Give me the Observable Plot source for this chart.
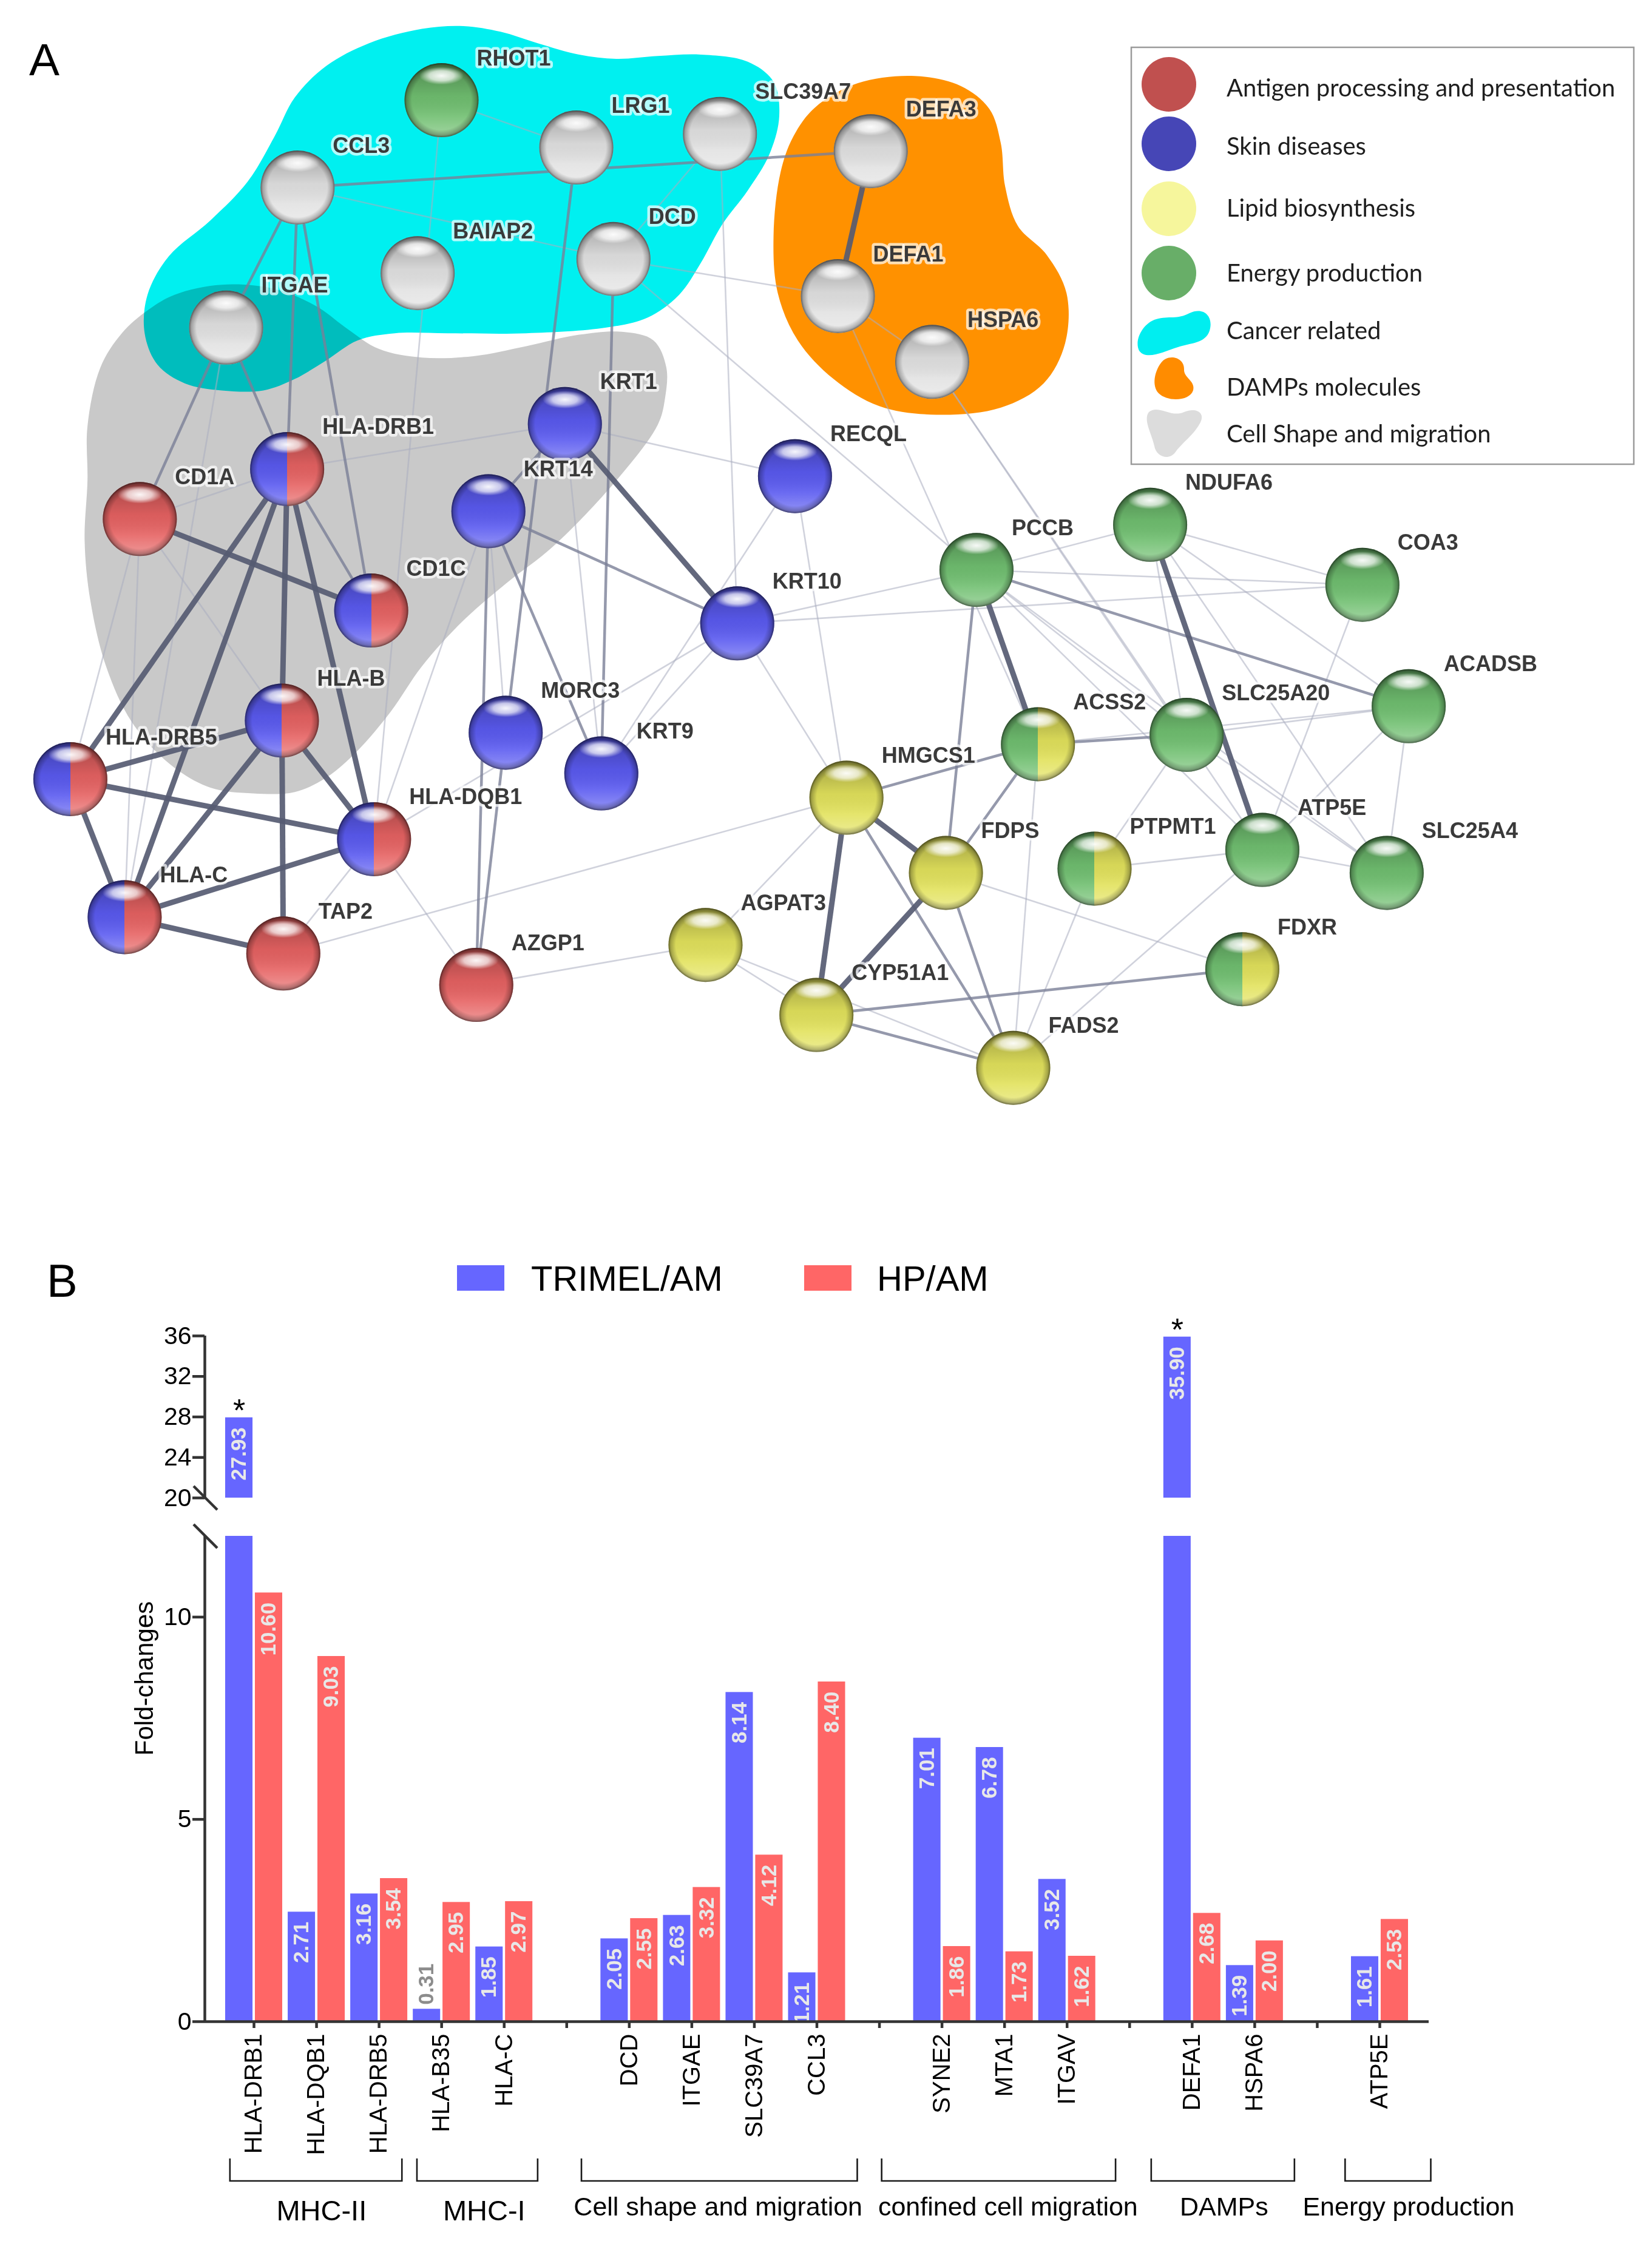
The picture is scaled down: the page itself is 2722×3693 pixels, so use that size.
<!DOCTYPE html>
<html>
<head>
<meta charset="utf-8">
<script src="https://cdn.jsdelivr.net/npm/d3@7"></script>
<script src="https://cdn.jsdelivr.net/npm/@observablehq/plot@0.6"></script>
<style>
html,body{margin:0;padding:0;background:#fff;overflow:hidden;}
#root{position:relative;width:2722px;height:3693px;overflow:hidden;font-family:"Liberation Sans",Arial,sans-serif;background:#fff;}
</style>
</head>
<body>
<div id="root"></div>
<script>
// ================= PANEL A DATA (network, layout units of the original picture) =================
const nodeNames = ["RHOT1","LRG1","SLC39A7","CCL3","BAIAP2","DCD","ITGAE","DEFA3","DEFA1","HSPA6",
  "KRT1","HLA-DRB1","CD1A","KRT14","RECQL","CD1C","KRT10","HLA-B","MORC3","KRT9",
  "HLA-DRB5","HLA-DQB1","HLA-C","TAP2","AZGP1","PCCB","NDUFA6","COA3","ACADSB","SLC25A20",
  "ACSS2","HMGCS1","FDPS","PTPMT1","ATP5E","SLC25A4","AGPAT3","CYP51A1","FDXR","FADS2"];
const nodeX = [308.7,403,503.5,208,292,429,158,609,586,652,
  395,200.7,97.6,341.5,556,259.5,515.6,197,353.6,420.5,
  49,261.5,87,198,333,683,804.5,953,985.4,830,
  726,592,661.6,765.6,883,970,493.4,571,869,708.7];
const nodeY = [69.9,103,93.5,131,191,181,229,105.6,207,253,
  296.5,328,363,357.5,333,427,436,504,512.5,541,
  545,587,641.6,667,689,398.6,367,409,494,514,
  520.6,558,610.6,607.6,594.5,610.6,661,710,678,747];
const nodeGroup = ["energy","none","none","none","none","none","none","none","none","none",
  "skin","skin/antigen","antigen","skin","skin","skin/antigen","skin","skin/antigen","skin","skin",
  "skin/antigen","skin/antigen","skin/antigen","antigen","antigen","energy","energy","energy","energy","energy",
  "energy/lipid","lipid","lipid","energy/lipid","energy","energy","lipid","lipid","energy/lipid","lipid"];

// [source, target, strength 1=weak 2=medium 3=strong]
const edges = [
  ["CCL3","ITGAE",2],["CCL3","HLA-DRB1",2],["CCL3","CD1C",2],["CCL3","DCD",1],["CCL3","DEFA3",2],
  ["RHOT1","LRG1",1],["RHOT1","HLA-DQB1",1],["LRG1","MORC3",2],["DCD","KRT9",2],["SLC39A7","DCD",1],
  ["DCD","DEFA1",1],["ITGAE","HLA-DRB1",2],["ITGAE","CD1A",2],["HLA-DRB1","KRT1",1],
  ["DEFA3","DEFA1",3],["DEFA1","HSPA6",1],
  ["HLA-DRB1","HLA-DRB5",3],["HLA-DRB1","HLA-C",3],["HLA-DRB1","HLA-B",3],["HLA-DRB1","HLA-DQB1",3],["HLA-DRB1","CD1C",2],
  ["CD1A","CD1C",3],["HLA-B","HLA-DRB5",3],["HLA-B","HLA-C",3],["HLA-B","HLA-DQB1",3],["HLA-B","TAP2",3],
  ["HLA-DRB5","HLA-DQB1",3],["HLA-DRB5","HLA-C",3],["HLA-C","HLA-DQB1",3],["HLA-C","TAP2",3],
  ["HLA-DQB1","TAP2",1],["CD1A","HLA-DRB5",1],["CD1A","HLA-C",1],["CD1A","HLA-B",1],["CD1A","HLA-DRB1",1],["ITGAE","HLA-C",1],
  ["KRT1","KRT10",3],["KRT14","KRT10",2],["KRT1","KRT14",2],["KRT14","KRT9",2],["KRT1","KRT9",1],["KRT14","MORC3",1],
  ["MORC3","AZGP1",2],["KRT14","AZGP1",2],["HLA-DQB1","AZGP1",1],["KRT10","KRT9",1],["KRT14","HLA-DQB1",1],
  ["KRT10","HLA-DQB1",1],["TAP2","HMGCS1",1],["AZGP1","AGPAT3",1],
  ["KRT10","PCCB",1],["KRT10","COA3",1],["RECQL","KRT9",1],["RECQL","KRT1",1],["DEFA1","ACSS2",1],["HSPA6","SLC25A20",1],
  ["DCD","PCCB",1],["HSPA6","ATP5E",1],["RECQL","HMGCS1",1],["KRT10","HMGCS1",1],["SLC39A7","KRT10",1],
  ["PCCB","NDUFA6",1],["PCCB","COA3",1],["PCCB","ACADSB",2],["PCCB","ACSS2",3],["PCCB","SLC25A20",1],["PCCB","FDPS",2],["PCCB","ATP5E",1],["PCCB","SLC25A4",1],
  ["NDUFA6","ATP5E",3],["NDUFA6","ACADSB",1],["NDUFA6","COA3",1],["NDUFA6","SLC25A4",1],["NDUFA6","SLC25A20",1],
  ["ACSS2","SLC25A20",2],["ACSS2","ACADSB",1],["ACSS2","HMGCS1",2],["ACSS2","FDPS",2],["ACSS2","FADS2",1],
  ["SLC25A20","ACADSB",1],["SLC25A20","PTPMT1",1],["SLC25A20","SLC25A4",1],
  ["ATP5E","PTPMT1",1],["ATP5E","SLC25A4",1],["ATP5E","ACADSB",1],["ATP5E","FADS2",1],["ATP5E","COA3",1],
  ["ACADSB","SLC25A4",1],
  ["HMGCS1","FDPS",3],["HMGCS1","CYP51A1",3],["HMGCS1","FADS2",2],["HMGCS1","AGPAT3",1],
  ["FDPS","CYP51A1",3],["FDPS","FADS2",2],["FDPS","FDXR",1],
  ["CYP51A1","FDXR",2],["CYP51A1","FADS2",2],["CYP51A1","AGPAT3",1],["AGPAT3","FADS2",1],["PTPMT1","FADS2",1]
];

// cluster outlines (shape data)
const hullCancer = [[206,68],[228,46],[258,30],[295,20],[324,18],[350,22],[376,30],[405,38],[431,41],[460,39],[490,38],[523,43],[541,57],[545,81],[538,108],[523,133],[505,157],[490,184],[475,206],[453,222],[424,229],[368,233],[313,233],[276,233],[250,238],[228,252],[206,265],[184,273],[155,273],[129,268],[110,255],[101,233],[103,206],[118,179],[147,154],[173,127],[192,95]];
const hullShape = [[61,298],[70,257],[85,233],[103,217],[122,206],[155,199],[192,202],[221,214],[243,230],[265,244],[295,250],[331,249],[368,242],[405,234],[435,232],[457,238],[466,257],[465,279],[460,297],[431,336],[387,382],[354,408],[324,434],[295,466],[273,498],[250,525],[228,544],[206,554],[177,555],[147,551],[118,534],[92,505],[74,466],[63,420],[59,378],[61,336]];
const hullDamps = [[570,75],[600,58],[640,53],[672,60],[692,76],[700,100],[703,130],[712,158],[732,178],[746,205],[745,240],[730,268],[700,285],[655,290],[615,284],[583,265],[558,238],[544,205],[541,165],[546,120],[555,95]];

const legendLabels = ["Antigen processing and presentation","Skin diseases","Lipid biosynthesis","Energy production","Cancer related","DAMPs molecules","Cell Shape and migration"];

// ================= PANEL B DATA =================
const slots = ["HLA-DRB1","HLA-DQB1","HLA-DRB5","HLA-B35","HLA-C",null,"DCD","ITGAE","SLC39A7","CCL3",null,"SYNE2","MTA1","ITGAV",null,"DEFA1","HSPA6",null,"ATP5E"];
const genes = ["HLA-DRB1","HLA-DQB1","HLA-DRB5","HLA-B35","HLA-C","DCD","ITGAE","SLC39A7","CCL3","SYNE2","MTA1","ITGAV","DEFA1","HSPA6","ATP5E"];
const trimelAM = [27.93,2.71,3.16,0.31,1.85,2.05,2.63,8.14,1.21,7.01,6.78,3.52,35.90,1.39,1.61];
const hpAM     = [10.60,9.03,3.54,2.95,2.97,2.55,3.32,4.12,8.40,1.86,1.73,1.62,2.68,2.00,2.53];
const seriesNames = ["TRIMEL/AM","HP/AM"];
const seriesColors = ["#6666ff","#ff6666"];
const starred = ["HLA-DRB1","DEFA1"];
const groupLabels = ["MHC-II","MHC-I","Cell shape and migration","confined cell migration","DAMPs","Energy production"];
const groupFirst  = ["HLA-DRB1","HLA-B35","DCD","SYNE2","DEFA1","ATP5E"];
const groupLast   = ["HLA-DRB5","HLA-C","CCL3","ITGAV","HSPA6","ATP5E"];

// ================= LAYOUT / STYLE =================
const W = 2722, S = 2.355, HA = 2000;
const FONT = "Liberation Sans, Arial, sans-serif";
const root = document.getElementById("root");
function place(el, top) {
  const d = document.createElement("div");
  d.style.cssText = `position:absolute;left:0;top:${top}px;width:${W}px;`;
  d.appendChild(el); root.appendChild(d);
}

// ---------- Panel A ----------
const nodes = nodeNames.map((n, i) => ({name: n, x: nodeX[i], y: nodeY[i], group: nodeGroup[i]}));
const byName = new Map(nodes.map(d => [d.name, d]));
const links = edges.map(([s, t, w]) => ({s: byName.get(s), t: byName.get(t), w})).filter(d => d.s && d.t);
const nodeFill = {
  "none": "#e2e2e2", "energy": "#70bf70", "skin": "#5a5af0", "antigen": "#e66262", "lipid": "#e2e25c",
  "skin/antigen": "url(#split-sa)", "energy/lipid": "url(#split-el)"
};
const linkOpts = {x1: d => d.s.x, y1: d => d.s.y, x2: d => d.t.x, y2: d => d.t.y};
const NR = 61;

const plotA = Plot.plot({
  width: W, height: HA, margin: 0,
  x: {domain: [0, W / S], range: [0, W], axis: null},
  y: {domain: [0, HA / S], range: [0, HA], axis: null},
  style: {fontFamily: FONT, background: "transparent", overflow: "visible"},
  marks: [
    Plot.line(hullCancer, {x: d => d[0], y: d => d[1], fill: "#00f0f0", stroke: "none", curve: "catmull-rom-closed"}),
    Plot.line(hullDamps, {x: d => d[0], y: d => d[1], fill: "#ff9100", stroke: "none", curve: "catmull-rom-closed"}),
    Plot.line(hullShape, {x: d => d[0], y: d => d[1], fill: "#c9c9c9", stroke: "none", curve: "catmull-rom-closed", mixBlendMode: "multiply"}),
    Plot.link(links.filter(d => d.w === 1), {...linkOpts, stroke: "#a9adc0", strokeOpacity: 0.55, strokeWidth: 2.6}),
    Plot.link(links.filter(d => d.w === 2), {...linkOpts, stroke: "#7a7f97", strokeOpacity: 0.8, strokeWidth: 4.5}),
    Plot.link(links.filter(d => d.w === 3), {...linkOpts, stroke: "#565b72", strokeOpacity: 0.92, strokeWidth: 9}),
    ...Object.keys(nodeFill).map(g =>
      Plot.dot(nodes.filter(d => d.group === g), {x: "x", y: "y", r: NR, fill: nodeFill[g], stroke: "none"})),
    Plot.dot(nodes, {x: "x", y: "y", r: NR, fill: "url(#vshade)", stroke: "none"}),
    Plot.dot(nodes, {x: "x", y: "y", r: NR, fill: "url(#rim)", stroke: "none"}),
    Plot.dot(nodes, {x: "x", y: "y", r: NR, fill: "url(#gloss)", stroke: "none"}),
    Plot.text(nodes, {x: "x", y: "y", text: "name", dx: 58, dy: -69, textAnchor: "start", lineAnchor: "middle",
      fontSize: 36, fontWeight: "bold", fontFamily: FONT, fill: "#3a3a3a",
      stroke: "white", strokeWidth: 9, strokeOpacity: 0.7, strokeLinejoin: "round"})
  ]
});
// gradients for the glossy nodes
(function addDefs(svg) {
  const defs = d3.select(svg).insert("defs", ":first-child");
  function grad(type, id, attrs, stops) {
    const g = defs.append(type).attr("id", id);
    for (const k in attrs) g.attr(k, attrs[k]);
    for (const [o, c, a] of stops) g.append("stop").attr("offset", o).attr("stop-color", c).attr("stop-opacity", a);
  }
  grad("linearGradient", "split-sa", {x1: 0, y1: 0, x2: 1, y2: 0},
    [[0, "#5a5af0", 1], [0.5, "#5a5af0", 1], [0.5, "#e66262", 1], [1, "#e66262", 1]]);
  grad("linearGradient", "split-el", {x1: 0, y1: 0, x2: 1, y2: 0},
    [[0, "#70bf70", 1], [0.5, "#70bf70", 1], [0.5, "#e2e25c", 1], [1, "#e2e25c", 1]]);
  grad("linearGradient", "vshade", {x1: 0, y1: 0, x2: 0, y2: 1},
    [[0, "#000", 0.3], [0.45, "#000", 0.05], [0.72, "#fff", 0.1], [1, "#fff", 0.35]]);
  grad("radialGradient", "rim", {cx: 0.5, cy: 0.5, r: 0.5},
    [[0, "#000", 0], [0.8, "#000", 0], [0.94, "#000", 0.25], [1, "#000", 0.55]]);
  grad("radialGradient", "gloss", {cx: 0.5, cy: 0.17, r: 0.5, gradientTransform: "translate(0.5 0.17) scale(0.6 0.24) translate(-0.5 -0.17)"},
    [[0, "#fff", 0.95], [0.55, "#fff", 0.7], [1, "#fff", 0]]);
})(plotA);
place(plotA, 0);

// ---------- Panel B ----------
const bars = genes.flatMap((g, i) => [
  {gene: g, slot: slots.indexOf(g), series: seriesNames[0], v: trimelAM[i]},
  {gene: g, slot: slots.indexOf(g), series: seriesNames[1], v: hpAM[i]}
]);
const barOff = {[seriesNames[0]]: [-0.456, -0.019], [seriesNames[1]]: [0.019, 0.456]};
const bx1 = d => d.slot + barOff[d.series][0];
const bx2 = d => d.slot + barOff[d.series][1];
const bxc = d => (bx1(d) + bx2(d)) / 2;
const xDomain = [-0.786, slots.length - 1 + 0.786];
const AX = "#333", AXW = 4.5;
const colorScale = {domain: seriesNames, range: seriesColors};
const labelStyle = {rotate: -90, fontSize: 35, fontWeight: "bold", fontFamily: FONT};

function slashMark(yValue) {
  return (index, scales, values, dims) => {
    const x0 = dims.marginLeft, y0 = scales.y(yValue);
    const p = document.createElementNS("http://www.w3.org/2000/svg", "path");
    p.setAttribute("d", `M${x0 - 18},${y0 - 19}L${x0 + 21},${y0 + 20}`);
    p.setAttribute("stroke", AX); p.setAttribute("stroke-width", AXW); p.setAttribute("fill", "none");
    return p;
  };
}

const upperBars = bars.filter(d => d.v > 20);
const upper = Plot.plot({
  width: W, height: 340, marginTop: 51, marginBottom: 22, marginLeft: 337, marginRight: 368,
  x: {domain: xDomain, axis: null},
  y: {domain: [20, 36]},
  color: colorScale,
  style: {fontFamily: FONT, color: "#000", background: "transparent", overflow: "visible"},
  marks: [
    Plot.rectY(upperBars, {x1: bx1, x2: bx2, y1: 20, y2: "v", fill: "series"}),
    Plot.text(upperBars, {x: bxc, y: "v", text: d => d.v.toFixed(2), textAnchor: "end", dy: 16, fill: "#e8e8e8", ...labelStyle}),
    Plot.text(bars.filter(d => d.series === seriesNames[0] && starred.includes(d.gene)),
      {x: bxc, y: "v", text: () => "*", lineAnchor: "bottom", dy: 6, fontSize: 52, fill: "#000", fontFamily: FONT}),
    Plot.axisY({ticks: [20, 24, 28, 32, 36], tickSize: 20, tickPadding: 2, fontSize: 41, stroke: AX, strokeWidth: AXW, fill: "#000", label: null}),
    Plot.ruleX([xDomain[0]], {y1: 20, y2: 36, stroke: AX, strokeWidth: AXW}),
    slashMark(20)
  ]
});
place(upper, 2150);

const bracketPad = [[-0.38, 0.37], [-0.39, 0.54], [-0.76, 0.65], [-0.96, 0.78], [-0.65, 0.64], [-0.55, 0.82]];
const labelShift = [0.09, 0.11, -0.02, 0.15, 0.02, 0.33];
function bracketsMark(index, scales, values, dims) {
  const g = d3.create("svg:g");
  const y0 = scales.y(0);
  groupLabels.forEach((lab, i) => {
    const a = slots.indexOf(groupFirst[i]) + bracketPad[i][0];
    const b = slots.indexOf(groupLast[i]) + bracketPad[i][1];
    const xa = scales.x(a), xb = scales.x(b);
    const top = y0 + 226, bot = y0 + 263;
    g.append("path").attr("d", `M${xa},${top}V${bot}H${xb}V${top}`)
      .attr("fill", "none").attr("stroke", "#1a1a1a").attr("stroke-width", 2.6);
    const big = lab.startsWith("MHC");
    g.append("text").attr("x", scales.x((a + b) / 2 + labelShift[i])).attr("y", y0 + (big ? 328 : 320))
      .attr("text-anchor", "middle").attr("font-size", big ? 47 : 43).attr("font-family", FONT)
      .attr("fill", "#000").text(lab);
  });
  return g.node();
}

const lower = Plot.plot({
  width: W, height: 1193, marginTop: 31, marginBottom: 362, marginLeft: 337, marginRight: 368,
  x: {domain: xDomain},
  y: {domain: [0, 12]},
  color: colorScale,
  style: {fontFamily: FONT, color: "#000", background: "transparent", overflow: "visible"},
  marks: [
    Plot.rectY(bars, {x1: bx1, x2: bx2, y1: 0, y2: "v", fill: "series", clip: true}),
    Plot.text(bars.filter(d => d.v <= 12 && d.v >= 0.6), {x: bxc, y: "v", text: d => d.v.toFixed(2), textAnchor: "end", dy: 16, fill: "#e8e8e8", ...labelStyle}),
    Plot.text(bars.filter(d => d.v < 0.6), {x: bxc, y: "v", text: d => d.v.toFixed(2), textAnchor: "start", dy: -7, fill: "#8c8c8c", ...labelStyle}),
    Plot.axisY({ticks: [0, 5, 10], tickSize: 20, tickPadding: 2, fontSize: 41, stroke: AX, strokeWidth: AXW, fill: "#000", label: null}),
    Plot.axisX({ticks: d3.range(slots.length), tickFormat: i => slots[i] ?? "", tickRotate: -90, tickSize: 11, tickPadding: 9,
      fontSize: 40, stroke: AX, strokeWidth: AXW, fill: "#000", label: null}),
    Plot.ruleY([0], {stroke: AX, strokeWidth: AXW}),
    Plot.ruleX([xDomain[0]], {y1: 0, y2: 12, stroke: AX, strokeWidth: AXW}),
    slashMark(12),
    bracketsMark
  ]
});
place(lower, 2500);

// ---------- Titles, legends (text added around the charts) ----------
const ov = d3.create("svg").attr("width", W).attr("height", 3693)
  .style("position", "absolute").style("left", 0).style("top", 0).style("pointer-events", "none")
  .attr("font-family", FONT);
ov.append("text").attr("x", 48).attr("y", 124).attr("font-size", 75).text("A");
ov.append("text").attr("x", 77).attr("y", 2137).attr("font-size", 76).text("B");

// legend A
ov.append("rect").attr("x", 1864).attr("y", 78).attr("width", 828).attr("height", 687)
  .attr("fill", "#fff").attr("stroke", "#9a9a9a").attr("stroke-width", 2.5);
const legendSw = ["#c0504f", "#4646b6", "#f6f69c", "#68ae68"];
const legendCy = [139, 237, 344, 450];
legendSw.forEach((c, i) => ov.append("circle").attr("cx", 1926).attr("cy", legendCy[i]).attr("r", 45).attr("fill", c));
ov.append("path").attr("fill", "#00eef0")
  .attr("d", "M1877,578 C1868,560 1884,532 1905,526 C1926,520 1940,527 1960,516 C1984,505 2000,522 1993,545 C1986,566 1962,565 1941,572 C1916,580 1889,594 1877,578 Z");
ov.append("path").attr("fill", "#ff8c00")
  .attr("d", "M1913,598 C1924,582 1952,588 1951,609 C1950,622 1970,628 1966,643 C1961,661 1924,663 1909,648 C1897,635 1903,611 1913,598 Z");
ov.append("path").attr("fill", "#dcdcdc")
  .attr("d", "M1893,679 C1908,666 1930,689 1951,679 C1971,671 1986,680 1978,696 C1968,716 1946,731 1936,746 C1926,759 1905,753 1902,735 C1898,715 1883,692 1893,679 Z");
const legendBase = [159, 255, 357, 464, 559, 652, 729];
legendLabels.forEach((t, i) => ov.append("text").attr("x", 2021).attr("y", legendBase[i])
  .attr("font-family", "Lato, 'Open Sans', sans-serif").attr("font-size", 40).attr("fill", "#1e1e1e").text(t));

// legend B
const legBX = [753, 1325], legTX = [875, 1445];
seriesNames.forEach((s, i) => {
  ov.append("rect").attr("x", legBX[i]).attr("y", 2085).attr("width", 78).attr("height", 42).attr("fill", seriesColors[i]);
  ov.append("text").attr("x", legTX[i]).attr("y", 2127).attr("font-size", 58).attr("fill", "#000").text(s);
});
// y-axis title centred on the whole broken axis
ov.append("text").attr("transform", "translate(252,2766) rotate(-90)").attr("text-anchor", "middle")
  .attr("font-size", 42).attr("fill", "#000").text("Fold-changes");
root.appendChild(ov.node());
</script>
</body>
</html>
